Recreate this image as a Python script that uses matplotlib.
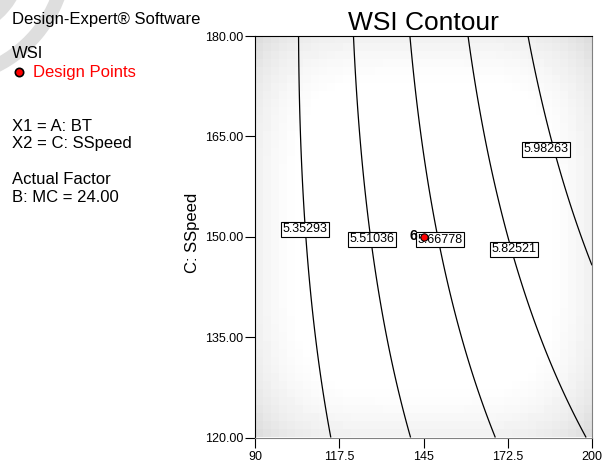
import numpy as np
import matplotlib
matplotlib.use('Agg')
import matplotlib.pyplot as plt
from matplotlib.patches import Arc

plt.rcParams['font.family'] = ['Liberation Sans', 'DejaVu Sans']

# factor ranges (actual units)
bt_range = [90, 200]
speed_range = [120, 180]

# quadratic model in coded units, estimated from the contour spacing
b0 = 5.635
bA = 0.39
bC = 0.085
bAC = 0.07
bAA = -0.02
bCC = -0.015

levels = [5.35293, 5.51036, 5.66778, 5.82521, 5.98263]
label_bt = [106.3, 128.2, 150.4, 174.5, 185.0]
label_speed = [151.1, 149.6, 149.55, 148.1, 163.1]

design_bt = [145]
design_speed = [150]
design_count = [6]

xticks = [90, 117.5, 145, 172.5, 200]
xticklabels = ['90', '117.5', '145', '172.5', '200']
yticks = [120, 135, 150, 165, 180]

fig = plt.figure(figsize=(6.03, 4.65), dpi=100)

# faint logo swoosh in the corner
fig.add_artist(Arc((-0.60, 5.12), 2.52, 2.52, theta1=-68, theta2=-12, transform=fig.dpi_scale_trans,
                   lw=10, color='#dedede', zorder=0))
fig.add_artist(Arc((-0.60, 5.12), 1.66, 1.66, theta1=-70, theta2=-10, transform=fig.dpi_scale_trans,
                   lw=10, color='#dedede', zorder=0))

ax = fig.add_axes([255/603, 1-437.5/465, 337/603, 401.5/465])

# standard error style shading
ga, gc = np.meshgrid(np.linspace(-1, 1, 42), np.linspace(-1, 1, 50))
v = ga**4 + gc**4
shade = 1 - 0.13*np.clip((v-0.35)/1.65, 0, 1)
ax.imshow(shade, extent=bt_range + speed_range, origin='lower', cmap='gray', vmin=0, vmax=1,
          interpolation='nearest', aspect='auto', zorder=0)

A = np.linspace(bt_range[0], bt_range[1], 300)
C = np.linspace(speed_range[0], speed_range[1], 300)
AA, CC = np.meshgrid(A, C)
a = (AA - 145) / 55
c = (CC - 150) / 30
Z = b0 + bA*a + bC*c + bAC*a*c + bAA*a**2 + bCC*c**2

ax.contour(AA, CC, Z, levels=levels, colors='black', linewidths=0.9, zorder=2)

for lev, x, y in zip(levels, label_bt, label_speed):
    ax.text(x, y, '%.5f' % lev, ha='center', va='center', fontsize=9, zorder=3,
            bbox=dict(boxstyle='square,pad=0.12', fc='white', ec='black', lw=0.8))

ax.scatter(design_bt, design_speed, s=28, c='red', edgecolors='black', linewidths=0.8, zorder=4)
for x, y, n in zip(design_bt, design_speed, design_count):
    ax.annotate(str(n), (x, y), xytext=(-4.5, 0.5), textcoords='offset points', ha='right', va='center',
                fontsize=10, fontweight='bold', zorder=5)

ax.set_xlim(bt_range)
ax.set_ylim(speed_range)
ax.set_xticks(xticks)
ax.set_xticklabels(xticklabels)
ax.set_yticks(yticks)
ax.set_yticklabels(['%.2f' % t for t in yticks])
ax.tick_params(direction='out', length=7, width=0.8, labelsize=9)
ax.tick_params(axis='y', pad=1.5)
ax.tick_params(axis='x', pad=3)
ax.spines['left'].set_color('black')
ax.spines['top'].set_color('black')
ax.spines['right'].set_color('#808080')
ax.spines['bottom'].set_color('#808080')

ax.set_title('WSI Contour', fontsize=19, pad=4)
ax.set_ylabel('C: SSpeed', fontsize=12)
ax.yaxis.set_label_coords(-0.163, 0.51)

# legend / info panel on the left
def ftext(x, y, s, **kw):
    fig.text(x/603, 1-y/465, s, va='baseline', fontsize=12, **kw)

ftext(12, 24, 'Design-Expert® Software')
ftext(12, 58, 'WSI')
ftext(33, 77, 'Design Points', color='red')
fig.add_artist(plt.Line2D([19/603], [1-72/465], marker='o', markersize=6, markerfacecolor='red',
                          markeredgecolor='black', markeredgewidth=1.2, linestyle='none'))
ftext(12, 131, 'X1 = A: BT')
ftext(12, 148, 'X2 = C: SSpeed')
ftext(12, 184, 'Actual Factor')
ftext(12, 202, 'B: MC = 24.00')

fig.savefig('out.png', dpi=100)
